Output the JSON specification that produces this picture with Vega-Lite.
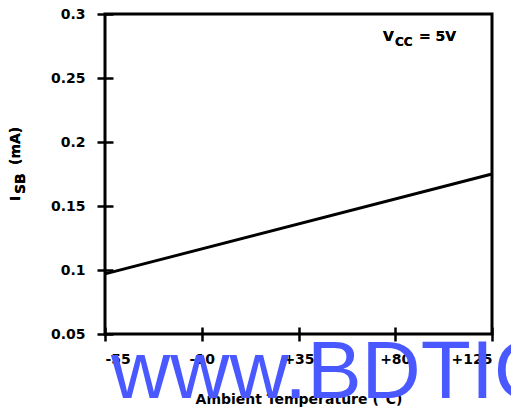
{
  "$schema": "https://vega.github.io/schema/vega-lite/v6.json",
  "width": 387,
  "height": 320,
  "autosize": {"type": "none"},
  "padding": {"left": 105, "top": 14, "right": 19, "bottom": 81},
  "background": "white",
  "config": {
    "font": "DejaVu Sans",
    "view": {"stroke": "black", "strokeWidth": 3}
  },
  "title": {
    "text": "www.BDTIC",
    "orient": "bottom",
    "anchor": "start",
    "frame": "group",
    "baseline": "alphabetic",
    "font": "Liberation Sans",
    "fontSize": 82,
    "fontWeight": "normal",
    "color": "#4a58ff",
    "offset": -8,
    "dx": 6
  },
  "data": {"values": [
    {"temp": -55, "isb": 0.097},
    {"temp": 125, "isb": 0.175}
  ]},
  "layer": [
    {
      "mark": {"type": "line", "color": "black", "strokeWidth": 3},
      "encoding": {
        "x": {
          "field": "temp", "type": "quantitative",
          "scale": {"domain": [-55, 125], "nice": false, "zero": false},
          "axis": {
            "values": [-55, -10, 35, 80, 125],
            "labelExpr": "datum.value > 0 ? '+' + datum.value : '' + datum.value",
            "title": "Ambient Temperature (°C)",
            "domain": false, "grid": false,
            "offset": -7, "tickSize": 14, "tickWidth": 2.5, "tickColor": "black",
            "labelPadding": 11, "labelFontSize": 14, "labelFontWeight": "bold", "labelColor": "black",
            "titleFontSize": 14, "titleFontWeight": "bold", "titleColor": "black", "titlePadding": 26
          }
        },
        "y": {
          "field": "isb", "type": "quantitative",
          "scale": {"domain": [0.05, 0.3], "nice": false, "zero": false},
          "axis": {
            "values": [0.05, 0.1, 0.15, 0.2, 0.25, 0.3],
            "format": ".2~f",
            "title": null,
            "domain": false, "grid": false,
            "offset": -8, "tickSize": 16, "tickWidth": 2.5, "tickColor": "black",
            "labelPadding": 12, "labelFontSize": 14, "labelFontWeight": "bold", "labelColor": "black"
          }
        }
      }
    },
    {
      "mark": {"type": "text", "align": "left", "baseline": "alphabetic", "angle": 270, "fontSize": 14, "fontWeight": "bold", "color": "black", "text": "I"},
      "encoding": {"x": {"datum": -94.5}, "y": {"datum": 0.1539}}
    },
    {
      "mark": {"type": "text", "align": "left", "baseline": "alphabetic", "angle": 270, "fontSize": 14, "fontWeight": "bold", "color": "black", "text": "SB", "dx": 7, "dy": 5},
      "encoding": {"x": {"datum": -94.5}, "y": {"datum": 0.1539}}
    },
    {
      "mark": {"type": "text", "align": "left", "baseline": "alphabetic", "angle": 270, "fontSize": 14, "fontWeight": "bold", "color": "black", "text": "(mA)", "dx": 36},
      "encoding": {"x": {"datum": -94.5}, "y": {"datum": 0.1539}}
    },
    {
      "mark": {"type": "text", "align": "left", "baseline": "alphabetic", "fontSize": 14, "fontWeight": "bold", "color": "black", "text": "V"},
      "encoding": {"x": {"datum": 74.3}, "y": {"datum": 0.2789}}
    },
    {
      "mark": {"type": "text", "align": "left", "baseline": "alphabetic", "fontSize": 12, "fontWeight": "bold", "color": "black", "text": "CC", "dx": 12, "dy": 5},
      "encoding": {"x": {"datum": 74.3}, "y": {"datum": 0.2789}}
    },
    {
      "mark": {"type": "text", "align": "left", "baseline": "alphabetic", "fontSize": 14, "fontWeight": "bold", "color": "black", "text": "= 5V", "dx": 36},
      "encoding": {"x": {"datum": 74.3}, "y": {"datum": 0.2789}}
    }
  ]
}
